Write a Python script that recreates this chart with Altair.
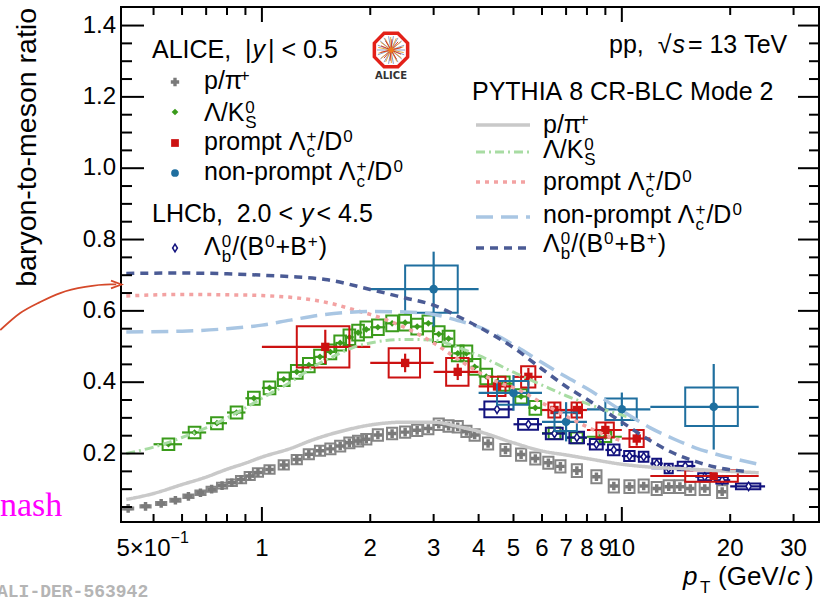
import math
import altair as alt
import pandas as pd

# ---------------- measured ratios ----------------
# ALICE p/pi+  (|y| < 0.5)
ppi_pt = [0.425, 0.475, 0.525, 0.575, 0.625, 0.675, 0.725, 0.775, 0.825, 0.875, 0.925, 0.975,
          1.05, 1.15, 1.25, 1.35, 1.45, 1.55, 1.65, 1.75, 1.85, 1.95,
          2.1, 2.3, 2.5, 2.7, 2.9, 3.1, 3.3, 3.5, 3.7, 3.9,
          4.25, 4.75, 5.25, 5.75, 6.25, 6.75,
          7.5, 8.5, 9.5, 10.5, 11.5, 12.5, 13.5, 14.5, 15.5, 17.0, 19.0]
ppi_ratio = [0.046, 0.052, 0.060, 0.069, 0.080, 0.090, 0.100, 0.110, 0.118, 0.127, 0.137, 0.147,
             0.155, 0.168, 0.183, 0.198, 0.208, 0.213, 0.221, 0.230, 0.235, 0.240,
             0.252, 0.256, 0.260, 0.265, 0.270, 0.282, 0.277, 0.275, 0.262, 0.252,
             0.228, 0.210, 0.197, 0.186, 0.174, 0.164,
             0.152, 0.135, 0.109, 0.107, 0.109, 0.102, 0.107, 0.107, 0.102, 0.102, 0.093]
ppi_syst = [0.003, 0.003, 0.004, 0.004, 0.005, 0.006, 0.007, 0.008, 0.009, 0.010, 0.011, 0.012,
            0.012, 0.013, 0.013, 0.014, 0.014, 0.015, 0.015, 0.015, 0.015, 0.015,
            0.016, 0.016, 0.016, 0.016, 0.016, 0.016, 0.016, 0.016, 0.016, 0.016,
            0.017, 0.017, 0.017, 0.017, 0.017, 0.017,
            0.018, 0.018, 0.018, 0.018, 0.018, 0.018, 0.018, 0.018, 0.018, 0.018, 0.018]

# ALICE Lambda/K0S
lk_pt = [0.55, 0.65, 0.75, 0.85, 0.95, 1.05, 1.15, 1.25, 1.35, 1.45, 1.55, 1.65, 1.75, 1.85, 1.95,
         2.1, 2.3, 2.5, 2.7, 2.9, 3.1, 3.3, 3.5, 3.7, 3.9, 4.2, 4.7, 5.25, 5.75, 6.5, 7.5, 9.0]
lk_dpt = [0.05, 0.05, 0.05, 0.05, 0.05, 0.05, 0.05, 0.05, 0.05, 0.05, 0.05, 0.05, 0.05, 0.05, 0.05,
          0.1, 0.1, 0.1, 0.1, 0.1, 0.1, 0.1, 0.1, 0.1, 0.1, 0.2, 0.3, 0.25, 0.25, 0.5, 0.5, 1.0]
lk_ratio = [0.226, 0.259, 0.285, 0.315, 0.355, 0.384, 0.408, 0.429, 0.448, 0.471, 0.485, 0.510, 0.526, 0.539, 0.548,
            0.554, 0.565, 0.567, 0.556, 0.565, 0.535, 0.522, 0.481, 0.481, 0.443, 0.416, 0.396, 0.360, 0.328,
            0.257, 0.244, 0.247]
lk_syst = [0.016, 0.016, 0.017, 0.017, 0.018, 0.018, 0.019, 0.019, 0.020, 0.020, 0.021, 0.021, 0.022, 0.022, 0.022,
           0.022, 0.022, 0.022, 0.022, 0.022, 0.022, 0.022, 0.022, 0.022, 0.022, 0.022, 0.020, 0.020, 0.019,
           0.016, 0.015, 0.015]

# ALICE prompt Lambda_c+/D0
plc_lo = [1, 2, 3, 4, 5, 6, 7, 8, 10, 12]
plc_hi = [2, 3, 4, 5, 6, 7, 8, 10, 12, 24]
plc_pt = [1.5, 2.5, 3.5, 4.5, 5.5, 6.5, 7.5, 9.0, 11.0, 18.0]
plc_ratio = [0.499, 0.454, 0.429, 0.388, 0.415, 0.322, 0.322, 0.266, 0.242, 0.137]
plc_stat = [0.048, 0.026, 0.023, 0.020, 0.025, 0.020, 0.020, 0.020, 0.020, 0.010]
plc_syst = [0.058, 0.041, 0.039, 0.027, 0.030, 0.021, 0.021, 0.021, 0.024, 0.016]

# ALICE non-prompt Lambda_c+/D0
nplc_lo = [2, 4, 6, 8, 12]
nplc_hi = [4, 6, 8, 12, 24]
nplc_pt = [3.0, 5.0, 7.0, 10.0, 18.0]
nplc_ratio = [0.661, 0.370, 0.289, 0.324, 0.331]
nplc_stat = [0.105, 0.050, 0.055, 0.047, 0.120]
nplc_syst = [0.066, 0.033, 0.026, 0.030, 0.054]

# LHCb Lambda_b0/(B0+B+)  (2.0 < y < 4.5)
lb_lo = [4, 5, 6, 7, 8, 9, 10, 11, 12, 13, 14, 16, 18, 20]
lb_hi = [5, 6, 7, 8, 9, 10, 11, 12, 13, 14, 16, 18, 20, 25]
lb_pt = [4.5, 5.5, 6.5, 7.5, 8.5, 9.5, 10.5, 11.5, 12.5, 13.5, 15.0, 17.0, 19.0, 22.5]
lb_ratio = [0.324, 0.282, 0.256, 0.245, 0.226, 0.210, 0.193, 0.191, 0.172, 0.158, 0.165, 0.135, 0.125, 0.108]
lb_stat = [0.008, 0.007, 0.007, 0.007, 0.007, 0.007, 0.007, 0.007, 0.007, 0.007, 0.006, 0.006, 0.006, 0.005]
lb_syst = [0.022, 0.015, 0.016, 0.016, 0.015, 0.015, 0.014, 0.014, 0.013, 0.013, 0.012, 0.010, 0.009, 0.008]

# ---------------- PYTHIA 8 CR-BLC Mode 2 ----------------
py_ppi_pt = [0.42, 0.5, 0.6, 0.7, 0.8, 0.9, 1.0, 1.2, 1.4, 1.7, 2.0, 2.5, 3.0, 3.5, 4.0, 5.0, 6.0, 7.0, 8.0,
             10, 12, 15, 20, 24]
py_ppi = [0.071, 0.088, 0.113, 0.134, 0.156, 0.173, 0.190, 0.214, 0.240, 0.265, 0.280, 0.288, 0.288, 0.276,
          0.262, 0.230, 0.207, 0.196, 0.186, 0.170, 0.162, 0.157, 0.150, 0.146]

py_lk_pt = [0.42, 0.5, 0.6, 0.7, 0.8, 0.9, 1.0, 1.2, 1.4, 1.6, 1.8, 2.0, 2.5, 3.0, 3.5, 4.0, 5.0, 6.0, 7.0,
            8.0, 9.0, 10.0, 11.0]
py_lk = [0.200, 0.218, 0.245, 0.272, 0.300, 0.328, 0.355, 0.400, 0.445, 0.475, 0.498, 0.510, 0.520, 0.518,
         0.498, 0.475, 0.428, 0.392, 0.362, 0.340, 0.322, 0.308, 0.295]

py_plc_pt = [0.42, 0.6, 0.8, 1.0, 1.2, 1.4, 1.6, 1.8, 2.0, 2.5, 3.0, 3.5, 4.0, 4.6, 5.0, 6.0, 7.0, 8.0,
             9.0, 10.0]
py_plc = [0.642, 0.646, 0.645, 0.643, 0.638, 0.630, 0.618, 0.603, 0.590, 0.553, 0.510, 0.465, 0.428, 0.397,
          0.385, 0.342, 0.305, 0.275, 0.252, 0.235]

py_nplc_pt = [0.42, 0.6, 0.8, 1.0, 1.2, 1.5, 2.0, 2.5, 3.0, 3.5, 4.0, 5.0, 6.0, 7.0, 8.0, 10, 12, 14, 16,
              18, 20, 24]
py_nplc = [0.541, 0.543, 0.550, 0.560, 0.574, 0.590, 0.598, 0.597, 0.590, 0.573, 0.555, 0.505, 0.455, 0.415,
           0.382, 0.320, 0.272, 0.240, 0.216, 0.200, 0.188, 0.170]

py_lb_pt = [0.42, 0.6, 0.8, 1.0, 1.2, 1.5, 2.0, 2.5, 3.0, 3.5, 4.0, 5.0, 6.0, 7.0, 8.0, 10, 12, 14, 16, 18, 22]
py_lb = [0.705, 0.706, 0.704, 0.700, 0.696, 0.688, 0.660, 0.636, 0.616, 0.585, 0.555, 0.497, 0.437, 0.388,
         0.352, 0.288, 0.236, 0.200, 0.178, 0.163, 0.150]

# annotation arrow (pT, ratio) pointing at the vertical axis
arrow_pt = [0.1875, 0.2131, 0.2422, 0.2753, 0.3229, 0.3790, 0.3938]
arrow_ratio = [0.546, 0.594, 0.625, 0.650, 0.667, 0.674, 0.674]

# axis ticks and tick labels
x_major = [1, 10]
x_minor = [0.5, 0.6, 0.7, 0.8, 0.9, 2, 3, 4, 5, 6, 7, 8, 9, 20, 30]
x_label_vals = [1, 2, 3, 4, 5, 6, 7, 8, 9, 10, 20, 30]
x_label_text = ["1", "2", "3", "4", "5", "6", "7", "8", "9", "10", "20", "30"]
y_major = [0.2, 0.4, 0.6, 0.8, 1.0, 1.2, 1.4]
y_label_text = ["0.2", "0.4", "0.6", "0.8", "1.0", "1.2", "1.4"]
y_minor = [0.05, 0.1, 0.15, 0.25, 0.3, 0.35, 0.45, 0.5, 0.55, 0.65, 0.7, 0.75, 0.85, 0.9, 0.95,
           1.05, 1.1, 1.15, 1.25, 1.3, 1.35]

# ---------------- styling ----------------
W, H = 698, 515
FONT = "Liberation Sans"
C_GRAY, C_GRAYBOX = "#7a7a7a", "#858585"
C_GREEN = "#3a9b1b"
C_RED = "#cc1111"
C_BLUE = "#1f6f9f"
C_NAVY = "#13137e"
M_GRAY, M_GREEN, M_PINK, M_LBLUE, M_DARK = "#c9c9c9", "#a8dca3", "#f3a2a2", "#a9c6e3", "#4b5b95"
DASH = {"ppi": [1, 0], "lk": [9, 4, 2, 4], "plc": [4, 5], "nplc": [17, 8], "lb": [8, 6]}

xs = alt.Scale(type="log", domain=[0.406, 35.3], nice=False)
ys = alt.Scale(domain=[0.008, 1.452], nice=False, zero=False)


def X(f):
    return alt.X(f, type="quantitative", scale=xs, axis=None)


def Y(f):
    return alt.Y(f, type="quantitative", scale=ys, axis=None)


one = pd.DataFrame({"k": [0]})

# ---------------- data frames ----------------
ppi = pd.DataFrame({"pt": ppi_pt, "r": ppi_ratio, "s": ppi_syst})
ppi["blo"], ppi["bhi"] = ppi.pt / 1.033, ppi.pt * 1.033
ppi["slo"], ppi["shi"] = ppi.r - ppi.s, ppi.r + ppi.s

lk = pd.DataFrame({"pt": lk_pt, "d": lk_dpt, "r": lk_ratio, "s": lk_syst})
lk["lo"], lk["hi"] = lk.pt - lk.d, lk.pt + lk.d
lk["blo"], lk["bhi"] = lk.pt / 1.038, lk.pt * 1.038
lk["slo"], lk["shi"] = lk.r - lk.s, lk.r + lk.s


def hf_frame(lo, hi, pt, r, stat, syst, box_frac):
    df = pd.DataFrame({"lo": lo, "hi": hi, "pt": pt, "r": r, "st": stat, "s": syst})
    half = (df.hi - df.lo) * box_frac
    df["blo"], df["bhi"] = df.pt - half, df.pt + half
    df["slo"], df["shi"] = df.r - df.s, df.r + df.s
    df["elo"], df["ehi"] = df.r - df.st, df.r + df.st
    return df


plc = hf_frame(plc_lo, plc_hi, plc_pt, plc_ratio, plc_stat, plc_syst, 0.25)
nplc = hf_frame(nplc_lo, nplc_hi, nplc_pt, nplc_ratio, nplc_stat, nplc_syst, 0.25)
lb = hf_frame(lb_lo, lb_hi, lb_pt, lb_ratio, lb_stat, lb_syst, 0.35)


def boxes(df, color, width=2):
    return alt.Chart(df).mark_rect(fill="transparent", stroke=color, strokeWidth=width).encode(
        x=X("blo"), x2="bhi", y=Y("slo"), y2="shi")


def hbars(df, color):
    return alt.Chart(df).mark_rule(color=color, strokeWidth=2.2).encode(x=X("lo"), x2="hi", y=Y("r"))


def vbars(df, color):
    return alt.Chart(df).mark_rule(color=color, strokeWidth=2.2).encode(x=X("pt"), y=Y("elo"), y2="ehi")


DIAMOND_TALL = "M0,-1L0.62,0L0,1L-0.62,0Z"

layers = []

# p/pi+
layers.append(boxes(ppi, C_GRAYBOX))
layers.append(alt.Chart(ppi).mark_point(shape="cross", filled=True, size=75, color=C_GRAY, opacity=1).encode(
    x=X("pt"), y=Y("r")))
# Lambda/K0S
layers.append(boxes(lk, C_GREEN))
layers.append(hbars(lk, C_GREEN))
layers.append(alt.Chart(lk).mark_point(shape="diamond", filled=True, size=45, color=C_GREEN, opacity=1).encode(
    x=X("pt"), y=Y("r")))
# LHCb Lambda_b
layers.append(boxes(lb, C_NAVY))
layers.append(hbars(lb, C_NAVY))
layers.append(vbars(lb, C_NAVY))
layers.append(alt.Chart(lb).mark_point(shape=DIAMOND_TALL, filled=True, fill="white", stroke=C_NAVY,
                                       strokeWidth=1.5, size=70, opacity=1).encode(x=X("pt"), y=Y("r")))
# prompt Lambda_c
layers.append(boxes(plc, C_RED))
layers.append(hbars(plc, C_RED))
layers.append(vbars(plc, C_RED))
layers.append(alt.Chart(plc).mark_point(shape="square", filled=True, size=70, color=C_RED, opacity=1).encode(
    x=X("pt"), y=Y("r")))
# non-prompt Lambda_c
layers.append(boxes(nplc, C_BLUE))
layers.append(hbars(nplc, C_BLUE))
layers.append(vbars(nplc, C_BLUE))
layers.append(alt.Chart(nplc).mark_point(shape="circle", filled=True, size=75, color=C_BLUE, opacity=1).encode(
    x=X("pt"), y=Y("r")))

# PYTHIA curves
models = [
    (py_ppi_pt, py_ppi, M_GRAY, DASH["ppi"], 3.5),
    (py_lk_pt, py_lk, M_GREEN, DASH["lk"], 3.0),
    (py_plc_pt, py_plc, M_PINK, DASH["plc"], 3.5),
    (py_nplc_pt, py_nplc, M_LBLUE, DASH["nplc"], 3.5),
    (py_lb_pt, py_lb, M_DARK, DASH["lb"], 3.5),
]
for pts, vals, col, dash, sw in models:
    layers.append(alt.Chart(pd.DataFrame({"pt": pts, "r": vals})).mark_line(
        color=col, strokeDash=dash, strokeWidth=sw, interpolate="monotone").encode(x=X("pt"), y=Y("r")))


# inward ticks on all four sides
def yticks(vals, x0, x1):
    return alt.Chart(pd.DataFrame({"v": vals})).mark_rule(color="black", strokeWidth=2).encode(
        y=Y("v"), x=alt.value(x0), x2=alt.value(x1))


def xticks(vals, y0, y1):
    return alt.Chart(pd.DataFrame({"v": vals})).mark_rule(color="black", strokeWidth=2).encode(
        x=X("v"), y=alt.value(y0), y2=alt.value(y1))


layers += [yticks(y_major, 0, 23), yticks(y_minor, 0, 11), yticks(y_major, W, W - 21), yticks(y_minor, W, W - 10),
           xticks(x_major, H, H - 15), xticks(x_minor, H, H - 8), xticks(x_major, 0, 15), xticks(x_minor, 0, 8)]

# tick labels
layers.append(alt.Chart(pd.DataFrame({"v": x_label_vals, "t": x_label_text})).mark_text(
    font=FONT, fontSize=24, color="black", align="center", baseline="alphabetic").encode(
    x=X("v"), y=alt.value(H + 34), text="t:N"))
layers.append(alt.Chart(pd.DataFrame({"v": [0.5], "t": ["5×10"]})).mark_text(
    font=FONT, fontSize=24, color="black", align="right", baseline="alphabetic", dx=17).encode(
    x=X("v"), y=alt.value(H + 34), text="t:N"))
layers.append(alt.Chart(pd.DataFrame({"v": [0.5], "t": ["−1"]})).mark_text(
    font=FONT, fontSize=16, color="black", align="left", baseline="alphabetic", dx=17).encode(
    x=X("v"), y=alt.value(H + 21), text="t:N"))
layers.append(alt.Chart(pd.DataFrame({"v": y_major, "t": y_label_text})).mark_text(
    font=FONT, fontSize=24, color="black", align="right", baseline="middle", dx=-5).encode(
    y=Y("v"), x=alt.value(0), text="t:N"))

# ---------------- legend text (rich text laid out piecewise) ----------------
ADV = {' ': .278, '(': .333, ')': .333, '+': .584, ',': .278, '-': .333, '.': .278, '/': .278, '<': .584,
       '=': .584, '|': .26, 'A': .667, 'B': .667, 'C': .722, 'D': .722, 'E': .667, 'G': .778, 'H': .722,
       'I': .278, 'K': .667, 'L': .556, 'M': .833, 'P': .667, 'R': .722, 'S': .667, 'T': .611, 'V': .667,
       'Y': .667, 'a': .556, 'b': .556, 'c': .5, 'd': .556, 'e': .556, 'h': .556, 'i': .222, 'm': .833,
       'n': .556, 'o': .556, 'p': .556, 'r': .333, 's': .5, 't': .278, 'v': .5, 'y': .5, 'Λ': .667,
       'π': .556, '√': .549}


def adv(s):
    return sum(ADV.get(ch, .556) for ch in s)


NBSP = "\u00a0"
FS = 25
SC = 0.68


def piece(x, y, text, size, style):
    return dict(x=x, y=y, text=text.replace(" ", NBSP), size=size, style=style)


def layout(x0, base, segs, fs=FS, right=False):
    pieces, x = [], x0
    for seg in segs:
        kind = seg[0]
        if kind == "n":
            pieces.append(piece(x, base, seg[1], fs, kind))
            x += adv(seg[1]) * fs
        elif kind == "i":
            pieces.append(piece(x + 1, base, seg[1], fs, kind))
            x += adv(seg[1]) * fs + 4
        elif kind == "sup":
            pieces.append(piece(x + 1, base - 0.32 * fs, seg[1], fs * SC, "n"))
            x += adv(seg[1]) * fs * SC + 2
        elif kind == "ss":
            pieces.append(piece(x + 1, base - 0.32 * fs, seg[1], fs * SC, "n"))
            pieces.append(piece(x + 1, base + 0.28 * fs, seg[2], fs * SC, "n"))
            x += max(adv(seg[1]), adv(seg[2])) * fs * SC + 2
    if right:
        shift = x - x0
        for p in pieces:
            p["x"] -= shift
    return pieces


LC = ("ss", "+", "c")
entries = {
    "ppi": [("n", "p/π"), ("sup", "+")],
    "lk": [("n", "Λ/K"), ("ss", "0", "S")],
    "plc": [("n", "prompt Λ"), LC, ("n", "/D"), ("sup", "0")],
    "nplc": [("n", "non-prompt Λ"), LC, ("n", "/D"), ("sup", "0")],
    "lb": [("n", "Λ"), ("ss", "0", "b"), ("n", "/(B"), ("sup", "0"), ("n", "+B"), ("sup", "+"), ("n", ")")],
}
order = ["ppi", "lk", "plc", "nplc", "lb"]

pieces = []
pieces += layout(31, 51, [("n", "ALICE,  |"), ("i", "y"), ("n", "| < 0.5")])
pieces += layout(31, 215, [("n", "LHCb,  2.0 < "), ("i", "y"), ("n", "  < 4.5")])
for key, base in zip(order, [82, 114, 143, 173, 248]):
    pieces += layout(83, base, entries[key])
pieces += layout(676, 46, [("n", "pp,  √"), ("i", "s"), ("n", " = 13 TeV")], right=True)
pieces += layout(351, 93, [("n", "PYTHIA 8 CR-BLC Mode 2")])
for key, base in zip(order, [126, 151, 183, 216, 245]):
    pieces += layout(422, base, entries[key])

txt = pd.DataFrame(pieces)
for style, fstyle in [("n", "normal"), ("i", "italic")]:
    layers.append(alt.Chart(txt[txt["style"] == style]).mark_text(
        align="left", baseline="alphabetic", font=FONT, fontStyle=fstyle, color="black").encode(
        x=alt.X("x:Q", scale=None, axis=None), y=alt.Y("y:Q", scale=None, axis=None), text="text:N",
        size=alt.Size("size:Q", scale=None, legend=None)))

# data-marker legend symbols
MX = 54
leg_marks = [
    dict(shape="cross", size=70, color=C_GRAY, y=75),
    dict(shape="diamond", size=45, color=C_GREEN, y=105),
    dict(shape="square", size=60, color=C_RED, y=136),
    dict(shape="circle", size=60, color=C_BLUE, y=166),
]
for m in leg_marks:
    layers.append(alt.Chart(one).mark_point(shape=m["shape"], filled=True, size=m["size"], color=m["color"],
                                            opacity=1).encode(x=alt.value(MX), y=alt.value(m["y"])))
layers.append(alt.Chart(one).mark_point(shape=DIAMOND_TALL, filled=True, fill="white", stroke=C_NAVY,
                                        strokeWidth=1.5, size=60, opacity=1).encode(x=alt.value(MX), y=alt.value(241)))

# model-line legend samples
for (pts, vals, col, dash, sw), ly in zip(models, [118, 145, 175, 210, 241]):
    layers.append(alt.Chart(one).mark_rule(color=col, strokeDash=dash, strokeWidth=sw).encode(
        x=alt.value(355), x2=alt.value(409), y=alt.value(ly)))

# ---------------- ALICE logo ----------------
oct_path = "M" + "L".join(f"{math.cos(math.pi / 8 + k * math.pi / 4):.3f},{math.sin(math.pi / 8 + k * math.pi / 4):.3f}"
                          for k in range(8)) + "Z"


def spokes(n, r, off):
    return "".join(f"M0,0L{r * math.cos(off + 2 * math.pi * k / n):.3f},{r * math.sin(off + 2 * math.pi * k / n):.3f}"
                   for k in range(n))


LX, LY = 270, 43
layers.append(alt.Chart(one).mark_point(shape=oct_path, filled=True, fill="white", stroke="#e32119",
                                        strokeWidth=3.5, size=1296, opacity=1).encode(x=alt.value(LX), y=alt.value(LY)))
for n, r, off, col in [(18, 0.78, 0.0, "#7f93c4"), (14, 0.72, 0.2, "#e89a2a"), (10, 0.6, 0.4, "#d22a1f")]:
    layers.append(alt.Chart(one).mark_point(shape=spokes(n, r, off), filled=False, stroke=col, strokeWidth=0.9,
                                            size=1296, opacity=1).encode(x=alt.value(LX), y=alt.value(LY)))
layers.append(alt.Chart(one).mark_point(shape="circle", filled=True, color="#f07a1a", size=30, opacity=1).encode(
    x=alt.value(LX), y=alt.value(LY)))
layers.append(alt.Chart(one).mark_text(text="ALICE", font="DejaVu Sans", fontWeight="bold", fontSize=10,
                                       color="#333333", align="center", baseline="alphabetic").encode(
    x=alt.value(LX), y=alt.value(72)))

# ---------------- axis titles ----------------
layers.append(alt.Chart(one).mark_text(text="baryon-to-meson ratio", font=FONT, fontSize=28.5, angle=270,
                                       align="right", baseline="alphabetic", color="black").encode(
    x=alt.value(-85), y=alt.value(1)))
for t, xx, yy, fs, st in [("p", 562, 578, 26, "italic"), ("T", 579, 586, 17, "normal"),
                          ("(GeV/", 597, 578, 26, "normal"), ("c", 666, 578, 26, "italic"),
                          (")", 684, 578, 26, "normal")]:
    layers.append(alt.Chart(one).mark_text(text=t, font=FONT, fontSize=fs, fontStyle=st, align="left",
                                           baseline="alphabetic", color="black").encode(
        x=alt.value(xx), y=alt.value(yy)))

# ---------------- annotations ----------------
arrow = pd.DataFrame({"pt": arrow_pt, "r": arrow_ratio})
layers.append(alt.Chart(arrow).mark_line(color="#d5492a", strokeWidth=1.8, interpolate="monotone").encode(
    x=X("pt"), y=Y("r")))
layers.append(alt.Chart(arrow.tail(1)).mark_point(shape="M-1,-0.75L1,0L-1,0.75", filled=False,
                                                   stroke="#d5492a", strokeWidth=1.8, size=110, opacity=1).encode(
    x=X("pt"), y=Y("r")))
layers.append(alt.Chart(one).mark_text(text="nash", font="Liberation Serif", fontSize=34, color="#ff00ff",
                                       align="left", baseline="alphabetic").encode(x=alt.value(-121), y=alt.value(509)))
layers.append(alt.Chart(one).mark_text(text="ALI-DER-563942", font="Liberation Mono", fontWeight="bold",
                                       fontSize=18, color="#b5b5b5", align="left", baseline="alphabetic").encode(
    x=alt.value(-124), y=alt.value(590)))

chart = alt.layer(*layers).properties(
    width=W, height=H,
    autosize=alt.AutoSizeParams(type="none"),
    padding={"left": 121, "top": 7, "right": 2, "bottom": 76},
    background="white",
).configure_view(stroke="black", strokeWidth=2)

chart.save("out.html", embed_options={"renderer": "svg", "actions": False})
